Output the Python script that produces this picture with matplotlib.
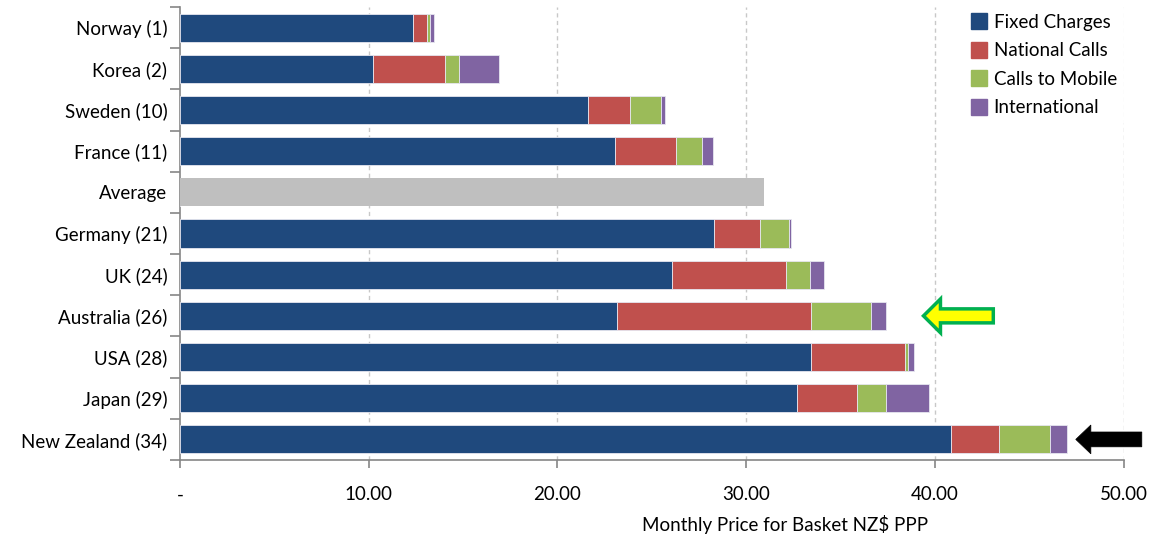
import matplotlib
matplotlib.use("Agg")
import matplotlib.pyplot as plt
from matplotlib.patches import FancyArrow
from matplotlib.lines import Line2D
import numpy as np

plt.rcParams['font.family'] = ['Lato', 'DejaVu Sans']

countries = ["Norway (1)", "Korea (2)", "Sweden (10)", "France (11)", "Average",
             "Germany (21)", "UK (24)", "Australia (26)", "USA (28)", "Japan (29)",
             "New Zealand (34)"]

# Monthly basket components, NZ$ PPP
fixed_charges = [12.34, 10.23, 21.60, 23.03, 0.00, 28.31, 26.05, 23.17, 33.46, 32.71, 40.85]
national_calls = [0.75, 3.81, 2.26, 3.27, 0.00, 2.45, 6.07, 10.29, 4.95, 3.18, 2.54]
calls_to_mobile = [0.18, 0.76, 1.63, 1.37, 0.00, 1.52, 1.27, 3.14, 0.18, 1.55, 2.71]
international = [0.17, 2.09, 0.22, 0.58, 0.00, 0.08, 0.75, 0.83, 0.33, 2.24, 0.92]
average_total = [0, 0, 0, 0, 30.95, 0, 0, 0, 0, 0, 0]

series_names = ["Fixed Charges", "National Calls", "Calls to Mobile", "International"]
series_colors = ["#1F497D", "#C0504D", "#9BBB59", "#8064A2"]
average_color = "#BFBFBF"

x_ticks = [0, 10, 20, 30, 40, 50]
x_tick_labels = ["-", "10.00", "20.00", "30.00", "40.00", "50.00"]

fig = plt.figure(figsize=(11.54, 5.40), dpi=100)
ax = fig.add_axes([180 / 1154, 1 - 460 / 540, (1123.5 - 180) / 1154, (460 - 7) / 540])

y = np.arange(len(countries))
bar_h = 0.68
left = np.zeros(len(countries))
for vals, name, col in zip([fixed_charges, national_calls, calls_to_mobile, international],
                           series_names, series_colors):
    v = np.array(vals)
    ax.barh(y, v, left=left, height=bar_h, color=col, edgecolor="#E6E6F0",
            linewidth=0.6, zorder=3, label=name)
    left += v
ax.barh(y, average_total, height=bar_h, color=average_color, linewidth=0, zorder=3)

ax.set_xlim(0, 50)
ax.set_ylim(len(countries) - 0.5, -0.5)

# grid
for xv in x_ticks[1:]:
    ax.axvline(xv, color="#C8C8C8", linewidth=1.0, linestyle=(0, (3, 2.5)), zorder=1)

# axes styling
for s in ["top", "right"]:
    ax.spines[s].set_visible(False)
for s in ["left", "bottom"]:
    ax.spines[s].set_color("#868686")
    ax.spines[s].set_linewidth(1.2)

fs = 13.5
ax.set_yticks(y)
ax.set_yticklabels(countries, fontsize=fs)
ax.set_yticks(np.arange(len(countries) + 1) - 0.5, minor=True)
ax.tick_params(axis="y", which="major", length=0, pad=9)
ax.tick_params(axis="y", which="minor", length=7, width=1.2, color="#868686", direction="out")

ax.set_xticks(x_ticks)
ax.set_xticklabels(x_tick_labels, fontsize=fs)
ax.tick_params(axis="x", which="major", length=6, width=1.2, color="#868686",
               direction="out", pad=13)

ax.set_xlabel("Monthly Price for Basket NZ$ PPP", fontsize=fs)
ax.xaxis.set_label_coords((785 - 180) / 943.5, -0.142)
ax.xaxis.label.set_va("center")

# legend
handles = [Line2D([0], [0], marker="s", linestyle="none", markersize=11,
                  markerfacecolor=c, markeredgecolor=c) for c in series_colors]
leg = ax.legend(handles, series_names, loc="upper right", bbox_to_anchor=(1.0, 1.0),
                frameon=True, fontsize=fs, handletextpad=0.3, labelspacing=0.62,
                borderpad=0.35, handlelength=1.0, borderaxespad=0.0)
leg.get_frame().set_facecolor("white")
leg.get_frame().set_edgecolor("white")
leg.set_zorder(5)

# highlight arrows
ax.add_patch(FancyArrow(43.1, 7, -3.7, 0, width=0.34, head_width=0.82, head_length=0.9,
                        length_includes_head=True, facecolor="#FFFF00",
                        edgecolor="#00B050", linewidth=2.5, zorder=6, clip_on=False))
ax.add_patch(FancyArrow(50.97, 10, -3.5, 0, width=0.36, head_width=0.70, head_length=0.8,
                        length_includes_head=True, facecolor="black",
                        edgecolor="black", linewidth=0.5, zorder=6, clip_on=False))

fig.savefig("out.png", dpi=100)
